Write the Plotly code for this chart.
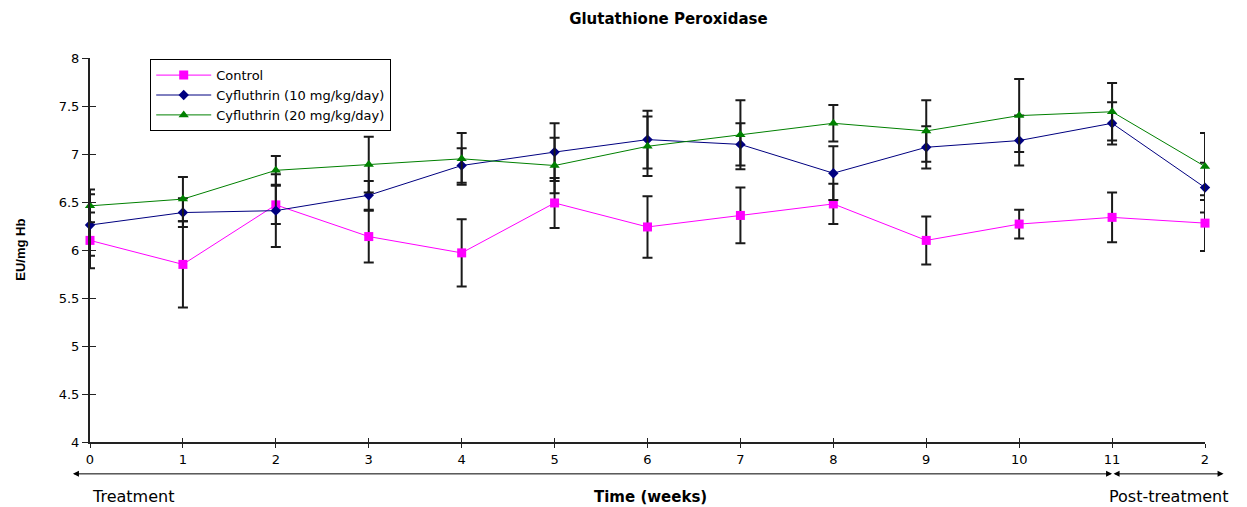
import plotly.graph_objects as go

weeks = list(range(13))
tick_labels = ["0", "1", "2", "3", "4", "5", "6", "7", "8", "9", "10", "11", "2"]

control = [6.10, 5.85, 6.47, 6.14, 5.97, 6.49, 6.24, 6.36, 6.48, 6.10, 6.27, 6.34, 6.28]
control_err = [0.29, 0.45, 0.20, 0.27, 0.35, 0.26, 0.32, 0.29, 0.21, 0.25, 0.15, 0.26, 0.29]
c10 = [6.26, 6.39, 6.41, 6.57, 6.88, 7.02, 7.15, 7.10, 6.80, 7.07, 7.14, 7.32, 6.65]
c10_err = [0.32, 0.15, 0.38, 0.15, 0.18, 0.30, 0.30, 0.22, 0.28, 0.22, 0.26, 0.22, 0.26]
c20 = [6.46, 6.53, 6.83, 6.89, 6.95, 6.88, 7.08, 7.20, 7.32, 7.24, 7.40, 7.44, 6.87]
c20_err = [0.17, 0.23, 0.15, 0.29, 0.27, 0.29, 0.31, 0.36, 0.19, 0.32, 0.38, 0.30, 0.35]

FONT = "DejaVu Sans"
ERR = dict(type="data", visible=True, color="#1a1a1a", thickness=2, width=5)

fig = go.Figure()
fig.add_trace(go.Scatter(
    x=weeks, y=control, name="Control", mode="lines+markers",
    line=dict(color="#FF00FF", width=1),
    marker=dict(symbol="square", size=9, color="#FF00FF"),
    error_y=dict(array=control_err, **ERR), cliponaxis=False))
fig.add_trace(go.Scatter(
    x=weeks, y=c10, name="Cyfluthrin (10 mg/kg/day)", mode="lines+markers",
    line=dict(color="#000080", width=1),
    marker=dict(symbol="diamond", size=8, color="#000080"),
    error_y=dict(array=c10_err, **ERR), cliponaxis=False))
fig.add_trace(go.Scatter(
    x=weeks, y=c20, name="Cyfluthrin (20 mg/kg/day)", mode="lines+markers",
    line=dict(color="#008000", width=1),
    marker=dict(symbol="triangle-up", size=9, color="#008000"),
    error_y=dict(array=c20_err, **ERR), cliponaxis=False))

# invisible trace to carry overlay axes (inner half of crossing ticks)
fig.add_trace(go.Scatter(x=[0], y=[4], xaxis="x2", yaxis="y2", mode="markers",
                         marker=dict(opacity=0), showlegend=False, hoverinfo="skip"))

fig.update_layout(
    width=1247, height=507,
    margin=dict(l=90, r=42, t=58, b=65),
    paper_bgcolor="white", plot_bgcolor="white",
    font=dict(family=FONT, size=13, color="black"),
    showlegend=True,
    legend=dict(x=0.054, y=0.997, xanchor="left", yanchor="top",
                bgcolor="white", bordercolor="black", borderwidth=1,
                font=dict(family=FONT, size=13), tracegroupgap=0,
                itemwidth=55),
    xaxis=dict(range=[0, 12], tickvals=weeks, ticktext=tick_labels,
               showgrid=False, zeroline=False, showline=True, linecolor="#222",
               linewidth=2, ticks="outside", ticklen=4, tickwidth=1, tickcolor="#222",
               tickfont=dict(family=FONT, size=13)),
    yaxis=dict(range=[4, 8], tickvals=[4, 4.5, 5, 5.5, 6, 6.5, 7, 7.5, 8],
               ticktext=["4", "4.5", "5", "5.5", "6", "6.5", "7", "7.5", "8"],
               showgrid=False, zeroline=False, showline=True, linecolor="#222",
               linewidth=2, ticks="outside", ticklen=6, tickwidth=1, tickcolor="#222",
               tickfont=dict(family=FONT, size=13)),
    xaxis2=dict(range=[0, 12], tickvals=weeks, overlaying="x", anchor="y",
                showticklabels=False, showgrid=False, zeroline=False, showline=False,
                ticks="inside", ticklen=4, tickwidth=1, tickcolor="#222", side="bottom"),
    yaxis2=dict(range=[4, 8], tickvals=[4, 4.5, 5, 5.5, 6, 6.5, 7, 7.5, 8], overlaying="y",
                anchor="x", showticklabels=False, showgrid=False, zeroline=False,
                showline=False, ticks="inside", ticklen=6, tickwidth=1, tickcolor="#222",
                side="left"),
    title=dict(text="<b>Glutathione Peroxidase</b>", x=0.536, xanchor="center",
               y=0.963, yanchor="middle", font=dict(family=FONT, size=15)),
)

arrow_y = -0.083
fig.add_annotation(x=11, y=arrow_y, xref="x", yref="paper", ax=-0.2, ay=0,
                   axref="x", ayref="pixel", text="", showarrow=True,
                   arrowside="end+start", arrowhead=2, arrowsize=1.2, arrowwidth=1,
                   arrowcolor="black")
fig.add_annotation(x=12.2, y=arrow_y, xref="x", yref="paper", ax=11, ay=0,
                   axref="x", ayref="pixel", text="", showarrow=True,
                   arrowside="end+start", arrowhead=2, arrowsize=1.2, arrowwidth=1,
                   arrowcolor="black")

bottom_y = -0.142
fig.add_annotation(x=0, y=bottom_y, xref="x", yref="paper", text="Treatment",
                   showarrow=False, xanchor="left", yanchor="middle",
                   font=dict(family=FONT, size=16))
fig.add_annotation(x=0.503, y=bottom_y, xref="paper", yref="paper",
                   text="<b>Time (weeks)</b>", showarrow=False, xanchor="center",
                   yanchor="middle", font=dict(family=FONT, size=15))
fig.add_annotation(x=10.95, y=bottom_y, xref="x", yref="paper", text="Post-treatment",
                   showarrow=False, xanchor="left", yanchor="middle",
                   font=dict(family=FONT, size=16))
fig.add_annotation(x=-0.063, y=0.5, xref="paper", yref="paper",
                   text="<b>EU/mg Hb</b>", textangle=-90, showarrow=False,
                   xanchor="center", yanchor="middle",
                   font=dict(family="Liberation Sans Narrow, Liberation Sans", size=13))

fig.write_html("out.html")
